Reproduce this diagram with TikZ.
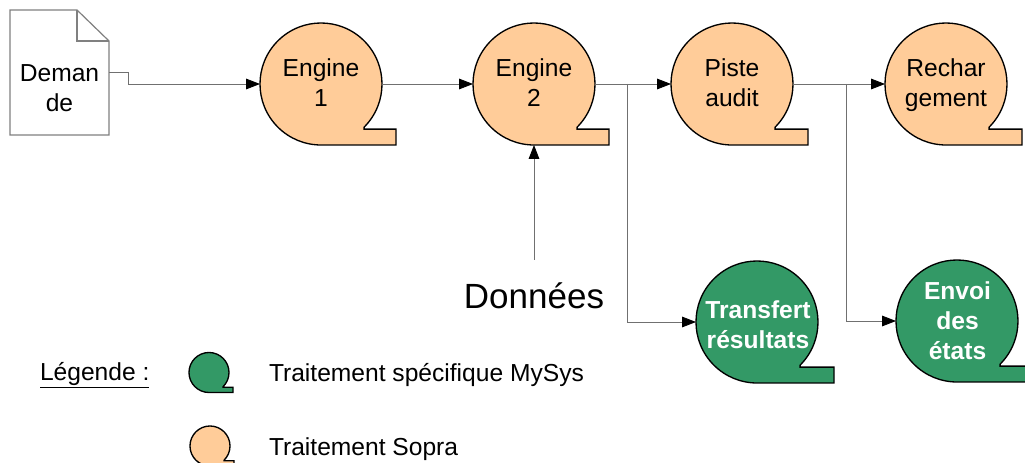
\documentclass[tikz,border=0pt]{standalone}
\usepackage{fontspec}
\setmainfont{Liberation Sans}
\usetikzlibrary{arrows.meta}
\definecolor{orangeproc}{HTML}{FFCC99}
\definecolor{greenproc}{HTML}{339966}
\definecolor{linegray}{HTML}{707070}
\definecolor{docgray}{HTML}{808080}
\newcommand{\lh}{\rule[-5pt]{0pt}{22pt}}
\tikzset{
  x=0.75pt,y=0.75pt,
  proctext/.style={circle,inner sep=0pt,outer sep=0pt,align=center,font=\fontsize{18.45}{22.5}\selectfont},
  orangetext/.style={proctext,text=black},
  greentext/.style={proctext,text=white,font=\fontsize{18.45}{22.5}\selectfont\bfseries},
  outline/.style={draw=black,line width=1pt,line join=miter},
  conn/.style={draw=linegray,line width=0.65pt,-{Stealth[black,inset=0pt,length=10.5pt,width=8pt]}},
  label/.style={inner sep=0pt,outer sep=0pt,anchor=base west,font=\fontsize{18.45}{22.5}\selectfont},
}
% name, cx, cy, r, tail end (px), colour, text style, text
\newcommand{\procshape}[8]{%
  \pgfmathsetmacro{\tailx}{#2+#5}%
  \pgfmathsetmacro{\bot}{#3-#4}%
  \pgfmathsetmacro{\tailtop}{#3-#4*0.74}%
  \pgfmathsetmacro{\startx}{#2+#4*0.7071}%
  \pgfmathsetmacro{\starty}{#3-#4*0.7071}%
  \draw[outline,fill=#6] (\startx,\starty) arc[start angle=-45,end angle=270,radius=#4*0.75pt]
     -- (\tailx,\bot) -- (\tailx,\tailtop) -- (\startx,\tailtop) -- cycle;
  \node[#7,minimum size=#4*1.5pt] (#1) at (#2,#3) {#8};
}
\begin{document}
\begin{tikzpicture}
\useasboundingbox (0,0) rectangle (1025,-463);
\fill[white] (0,0) rectangle (1025,-463);

% document
\draw[docgray,line width=0.9pt,fill=white,line join=miter] (10,-10) -- (77,-10) -- (109,-41) -- (109,-135) -- (10,-135) -- cycle;
\draw[docgray,line width=0.9pt] (77,-10) -- (77,-41) -- (109,-41);
\node[inner sep=0pt,outer sep=0pt,minimum width=74.25pt,minimum height=93.75pt] (doc) at (59.5,-72.5) {};
\node[proctext,rectangle] (doctext) at (59.5,-88.5) {\lh Deman\\\lh de};

\procshape{e1}{321}{-84}{61}{75}{orangeproc}{orangetext}{\lh Engine\\\lh 1}
\procshape{e2}{534}{-84}{61}{75}{orangeproc}{orangetext}{\lh Engine\\\lh 2}
\procshape{piste}{732}{-84}{61}{76}{orangeproc}{orangetext}{\lh Piste\\\lh audit}
\procshape{rech}{946}{-84}{61}{76}{orangeproc}{orangetext}{\lh Rechar\\\lh gement}
\procshape{transfert}{757}{-322}{61}{77}{greenproc}{greentext}{}
\node[greentext,rectangle] (transferttext) at (758,-326) {\lh Transfert\\\lh résultats};
\procshape{envoi}{957}{-321}{61}{77}{greenproc}{greentext}{}
\node[greentext,rectangle] (envoitext) at (957.5,-321.5) {\lh Envoi\\\lh des\\\lh états};
\procshape{legg}{209}{-372.5}{20}{24}{greenproc}{orangetext}{}
\procshape{lego}{210}{-446}{20}{24}{orangeproc}{orangetext}{}

% connectors
\coordinate (b1) at (627,-84);
\coordinate (b2) at (846,-84);
\coordinate (dtop) at (534,-260);
\coordinate (k1) at (128,-72.5);
\coordinate (k2) at (128,-84);
\draw[conn] (doc.east) -- (k1) -- (k2) -- (e1.west);
\draw[conn] (e1.east) -- (e2.west);
\draw[conn] (e2.east) -- (piste.west);
\draw[conn] (piste.east) -- (rech.west);
\draw[conn] (b1) |- (transfert.west);
\draw[conn] (b2) |- (envoi.west);
\draw[conn] (dtop) -- (e2.south);

% labels
\node[inner sep=0pt,outer sep=0pt,font=\fontsize{26.25}{30}\selectfont] (donnees) at (534,-296) {Données};
\node[label] (leg) at (40,-380) {\underline{Légende :}};
\node[label] (l1) at (269,-382) {Traitement spécifique MySys};
\node[label] (l2) at (269,-455) {Traitement Sopra};
\end{tikzpicture}
\end{document}
